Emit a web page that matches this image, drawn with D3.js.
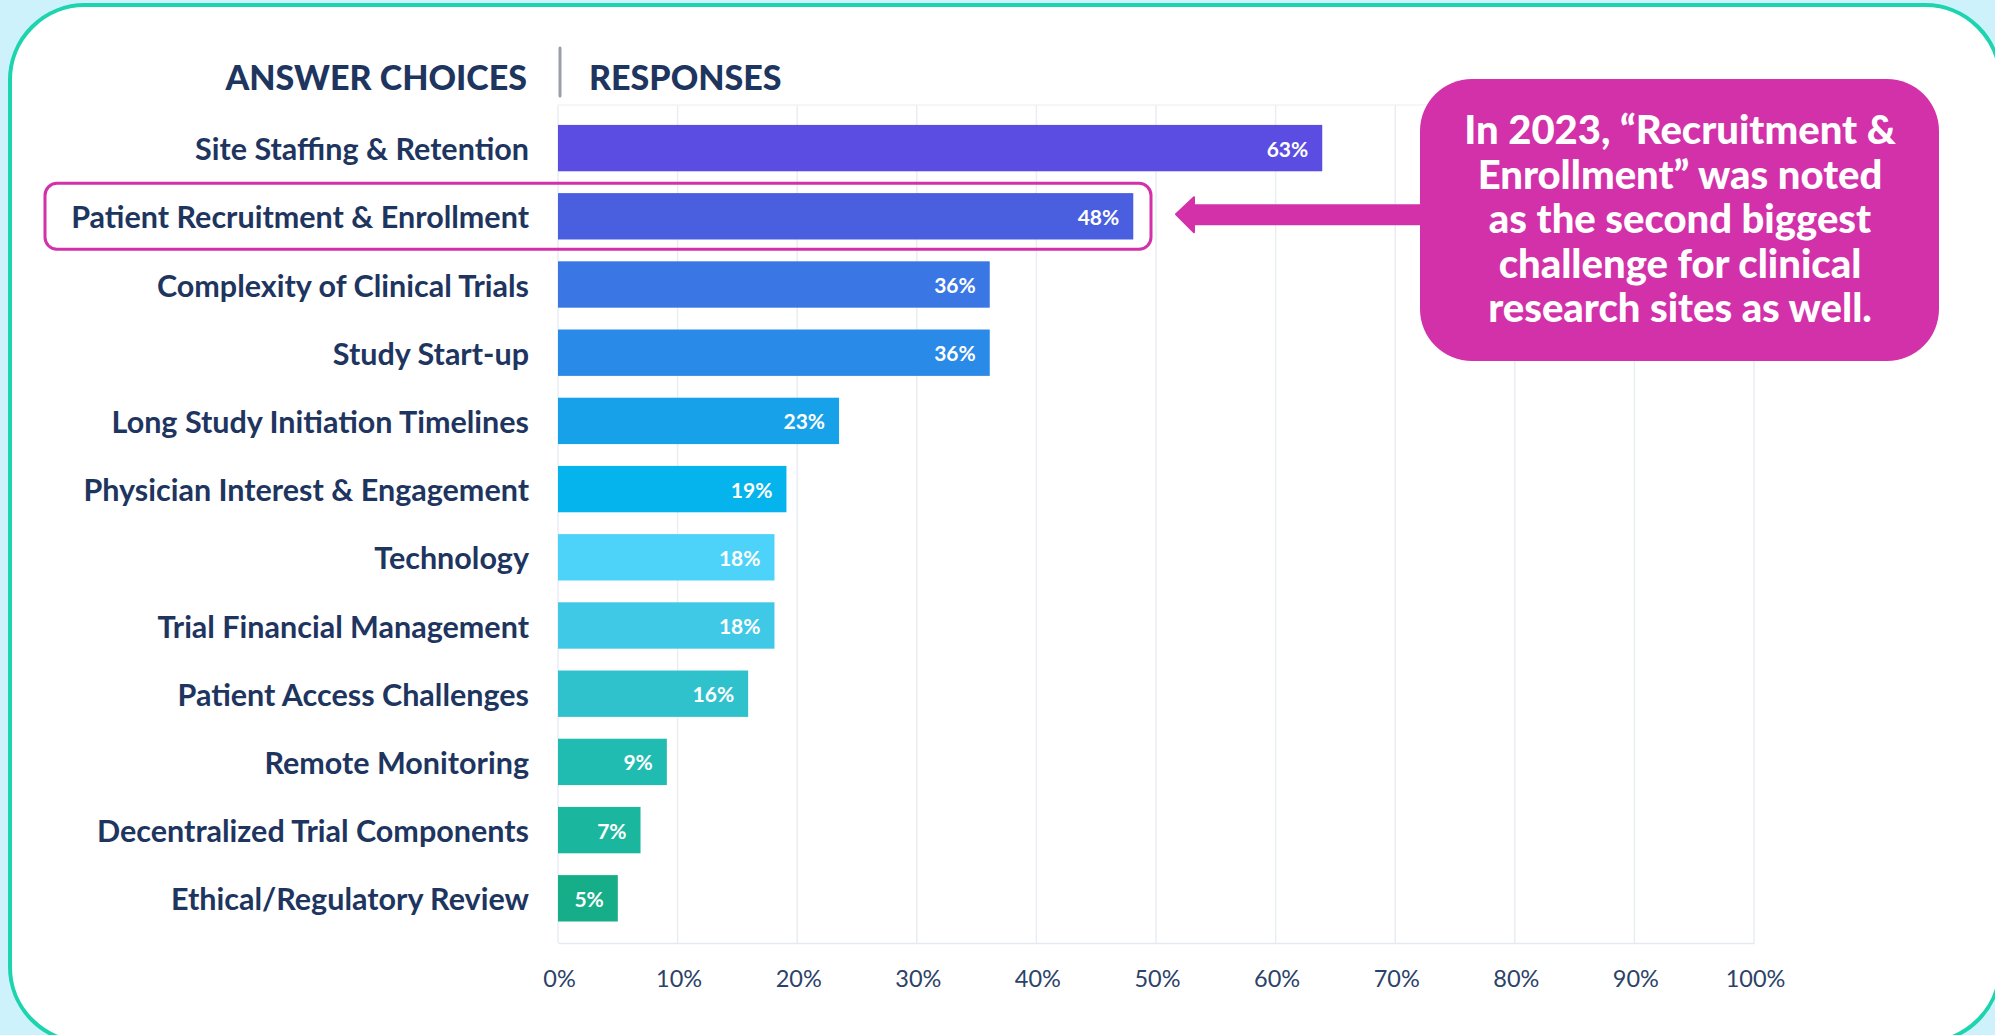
<!DOCTYPE html>
<html>
<head>
<meta charset="utf-8">
<script src="https://cdn.jsdelivr.net/npm/d3@7"></script>
<style>
  html, body { margin: 0; padding: 0; background: #cdf2fc; }
  svg { display: block; }
</style>
</head>
<body>
<svg id="chart" width="1995" height="1035"></svg>
<script>
// survey answers, top to bottom
const categories = [
  "Site Staffing & Retention",
  "Patient Recruitment & Enrollment",
  "Complexity of Clinical Trials",
  "Study Start-up",
  "Long Study Initiation Timelines",
  "Physician Interest & Engagement",
  "Technology",
  "Trial Financial Management",
  "Patient Access Challenges",
  "Remote Monitoring",
  "Decentralized Trial Components",
  "Ethical/Regulatory Review"
];
// bar lengths (percent of respondents)
const values = [63.9, 48.1, 36.1, 36.1, 23.5, 19.1, 18.1, 18.1, 15.9, 9.1, 6.9, 5.0];
// printed labels on the bars
const valueLabels = ["63%", "48%", "36%", "36%", "23%", "19%", "18%", "18%", "16%", "9%", "7%", "5%"];
const tickValues = [0, 10, 20, 30, 40, 50, 60, 70, 80, 90, 100];
const highlighted = "Patient Recruitment & Enrollment";
const calloutLines = [
  "In 2023, \u201CRecruitment &",
  "Enrollment\u201D was noted",
  "as the second biggest",
  "challenge for clinical",
  "research sites as well."
];

const barColors = ["#5b4de2", "#4a5ee0", "#3a77e4", "#2a8ae7", "#17a1e9", "#05b3ed",
                   "#4dd3fa", "#40c9e6", "#30c2cc", "#21bcb1", "#1bb69e", "#15ae88"];

const navy = "#1e3560";
const magenta = "#d331a9";

const svg = d3.select("#chart");

// white card with teal border
svg.append("rect")
  .attr("x", 10).attr("y", 5)
  .attr("width", 1990).attr("height", 1037)
  .attr("rx", 75).attr("ry", 75)
  .attr("fill", "#ffffff")
  .attr("stroke", "#1cd4ad")
  .attr("stroke-width", 4);

// scales
const x = d3.scaleLinear().domain([0, 100]).range([558, 1754]);
const y = d3.scaleBand().domain(categories)
  .range([114, 932.4])
  .paddingInner(0.32)
  .paddingOuter(0.16);

const plotTop = 105, plotBottom = 943;

// grid
svg.append("g")
  .selectAll("line")
  .data(tickValues)
  .join("line")
  .attr("x1", d => x(d)).attr("x2", d => x(d))
  .attr("y1", plotTop).attr("y2", plotBottom)
  .attr("stroke", "#e9eef3")
  .attr("stroke-width", 1.5);

svg.append("line")
  .attr("x1", x(0)).attr("x2", x(100))
  .attr("y1", plotTop).attr("y2", plotTop)
  .attr("stroke", "#f1f3f5").attr("stroke-width", 1.5);

// x axis
const xAxis = d3.axisBottom(x)
  .tickValues(tickValues)
  .tickFormat(d => d + "%")
  .tickSize(0)
  .tickPadding(27);

const axisG = svg.append("g")
  .attr("transform", `translate(0,${plotBottom})`)
  .call(xAxis);
axisG.select(".domain").attr("stroke", "#e3e9ef").attr("stroke-width", 1.5);
axisG.selectAll("text")
  .attr("dx", 1)
  .attr("fill", "#2c4268")
  .style("font-family", "Lato, sans-serif")
  .style("font-size", "23.5px");

// bars
svg.append("g")
  .selectAll("rect")
  .data(categories)
  .join("rect")
  .attr("x", x(0))
  .attr("y", d => y(d))
  .attr("width", (d, i) => x(values[i]) - x(0))
  .attr("height", y.bandwidth())
  .attr("fill", (d, i) => barColors[i]);

// value labels inside bars
svg.append("g")
  .selectAll("text")
  .data(categories)
  .join("text")
  .attr("x", (d, i) => x(values[i]) - 14)
  .attr("y", d => y(d) + y.bandwidth() / 2)
  .attr("text-anchor", "end")
  .attr("dominant-baseline", "central")
  .attr("fill", "#ffffff")
  .style("font-family", "Lato, sans-serif")
  .style("font-weight", "700")
  .style("font-size", "21px")
  .text((d, i) => valueLabels[i]);

// category labels
svg.append("g")
  .selectAll("text")
  .data(categories)
  .join("text")
  .attr("x", 529)
  .attr("y", d => y(d) + y.bandwidth() / 2)
  .attr("text-anchor", "end")
  .attr("dominant-baseline", "central")
  .attr("fill", navy)
  .style("font-family", "Lato, sans-serif")
  .style("font-weight", "700")
  .style("font-size", "30.5px")
  .text(d => d);

// column headers
svg.append("text")
  .attr("x", 527).attr("y", 76)
  .attr("text-anchor", "end")
  .attr("dominant-baseline", "central")
  .attr("fill", navy)
  .style("font-family", "Lato, sans-serif")
  .style("font-weight", "900")
  .style("font-size", "34px")
  .text("ANSWER CHOICES");

svg.append("text")
  .attr("x", 589).attr("y", 76)
  .attr("dominant-baseline", "central")
  .attr("fill", navy)
  .style("font-family", "Lato, sans-serif")
  .style("font-weight", "900")
  .style("font-size", "34px")
  .text("RESPONSES");

svg.append("line")
  .attr("x1", 560).attr("x2", 560)
  .attr("y1", 48).attr("y2", 96)
  .attr("stroke", "#9a9ea5")
  .attr("stroke-width", 3)
  .attr("stroke-linecap", "round");

// highlight box round the second row
const hy = y(highlighted) + y.bandwidth() / 2;
svg.append("rect")
  .attr("x", 45).attr("y", hy - 33)
  .attr("width", 1106).attr("height", 66)
  .attr("rx", 12)
  .attr("fill", "none")
  .attr("stroke", magenta)
  .attr("stroke-width", 3);

// arrow from callout to the highlighted row
const tipX = 1176;
svg.append("path")
  .attr("d", `M${tipX},${hy - 2} L${tipX + 18},${hy - 19} L${tipX + 18},${hy - 11}
              L1425,${hy - 11} L1425,${hy + 8} L${tipX + 18},${hy + 8}
              L${tipX + 18},${hy + 16} Z`)
  .attr("fill", magenta)
  .attr("stroke", magenta)
  .attr("stroke-width", 2)
  .attr("stroke-linejoin", "round");

// callout box
svg.append("rect")
  .attr("x", 1420).attr("y", 79)
  .attr("width", 519).attr("height", 282)
  .attr("rx", 52).attr("ry", 52)
  .attr("fill", magenta);

svg.append("g")
  .selectAll("text")
  .data(calloutLines)
  .join("text")
  .attr("x", 1680)
  .attr("y", (d, i) => 144 + i * 44.5)
  .attr("text-anchor", "middle")
  .attr("fill", "#ffffff")
  .style("font-family", "Lato, sans-serif")
  .style("font-weight", "900")
  .style("font-size", "40px")
  .text(d => d);
</script>
</body>
</html>
